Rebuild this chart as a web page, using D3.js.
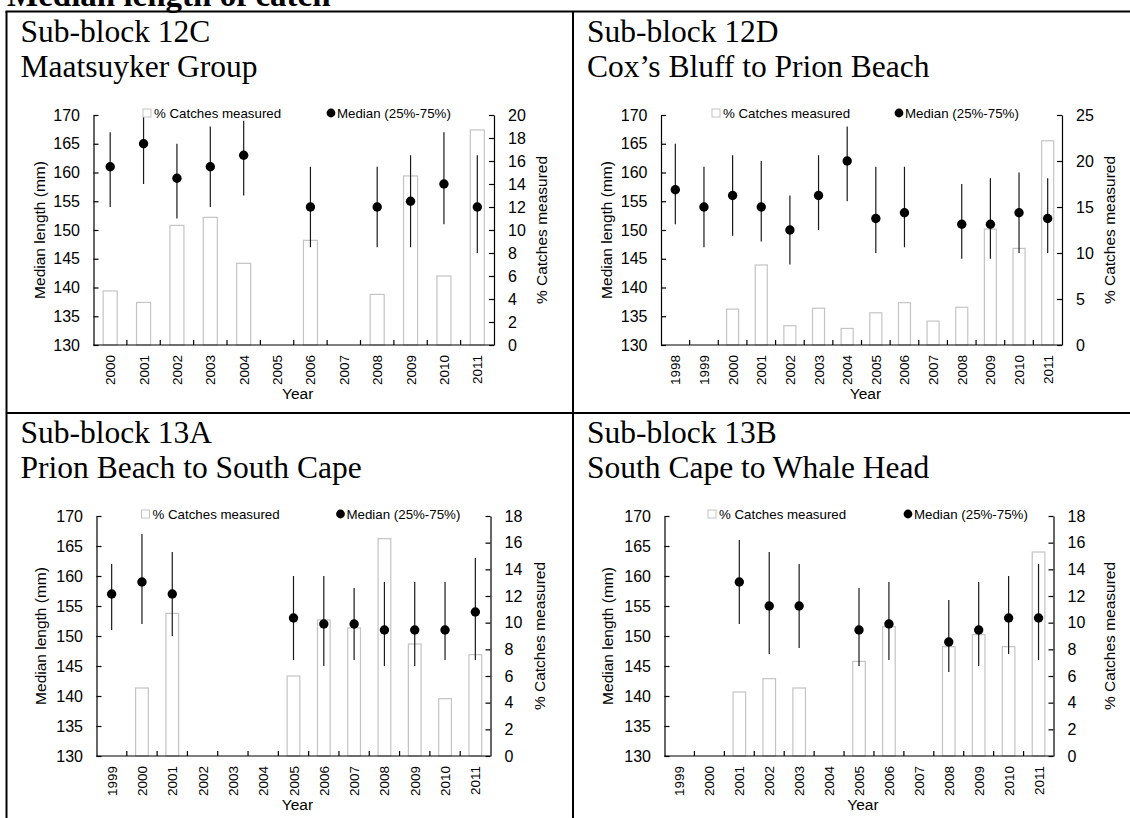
<!DOCTYPE html>
<html>
<head>
<meta charset="utf-8">
<script src="https://cdn.jsdelivr.net/npm/d3@7"></script>
<style>
  html, body { margin: 0; padding: 0; background: #fff; }
  svg { display: block; }
</style>
</head>
<body>
<svg id="chart" width="1130" height="818"></svg>
<script>
// ---------------- DATA ----------------
const figureTitle = "Median length of catch";
const legendBar = "% Catches measured";
const legendMedian = "Median (25%-75%)";
const leftAxisTitle = "Median length (mm)";
const rightAxisTitle = "% Catches measured";
const xAxisTitle = "Year";
const lengthTicks = [130, 135, 140, 145, 150, 155, 160, 165, 170];

// Sub-block 12C
const years12C = ["2000","2001","2002","2003","2004","2005","2006","2007","2008","2009","2010","2011"];
const median12C = [161, 165, 159, 161, 163, null, 154, null, 154, 155, 158, 154];
const q25_12C   = [154, 158, 152, 154, 156, null, 147, null, 147, 147, 151, 146];
const q75_12C   = [167, 170, 165, 168, 169, null, 161, null, 161, 163, 167, 163];
const pct12C    = [4.7, 3.7, 10.4, 11.1, 7.1, 0, 9.1, 0, 4.4, 14.7, 6.0, 18.7];
const pctTicks12C = [0, 2, 4, 6, 8, 10, 12, 14, 16, 18, 20];

// Sub-block 12D
const years12D = ["1998","1999","2000","2001","2002","2003","2004","2005","2006","2007","2008","2009","2010","2011"];
const median12D = [157, 154, 156, 154, 150, 156, 162, 152, 153, null, 151, 151, 153, 152];
const q25_12D   = [151, 147, 149, 148, 144, 150, 155, 146, 147, null, 145, 145, 146, 146];
const q75_12D   = [165, 161, 163, 162, 156, 163, 168, 161, 161, null, 158, 159, 160, 159];
const pct12D    = [0, 0, 3.9, 8.7, 2.1, 4.0, 1.8, 3.5, 4.6, 2.6, 4.1, 12.6, 10.5, 22.2];
const pctTicks12D = [0, 5, 10, 15, 20, 25];

// Sub-block 13A
const years13A = ["1999","2000","2001","2002","2003","2004","2005","2006","2007","2008","2009","2010","2011"];
const median13A = [157, 159, 157, null, null, null, 153, 152, 152, 151, 151, 151, 154];
const q25_13A   = [151, 152, 150, null, null, null, 146, 145, 146, 145, 145, 146, 146];
const q75_13A   = [162, 167, 164, null, null, null, 160, 160, 158, 159, 159, 159, 163];
const pct13A    = [0, 5.1, 10.7, 0, 0, 0, 6.0, 10.2, 9.6, 16.3, 8.4, 4.3, 7.6];
const pctTicks13A = [0, 2, 4, 6, 8, 10, 12, 14, 16, 18];

// Sub-block 13B
const years13B = ["1999","2000","2001","2002","2003","2004","2005","2006","2007","2008","2009","2010","2011"];
const median13B = [null, null, 159, 155, 155, null, 151, 152, null, 149, 151, 153, 153];
const q25_13B   = [null, null, 152, 147, 148, null, 145, 146, null, 144, 145, 147, 146];
const q75_13B   = [null, null, 166, 164, 162, null, 158, 159, null, 156, 159, 160, 162];
const pct13B    = [0, 0, 4.8, 5.8, 5.1, 0, 7.1, 9.7, 0, 8.2, 9.1, 8.2, 15.3];
const pctTicks13B = [0, 2, 4, 6, 8, 10, 12, 14, 16, 18];

// ---------------- LAYOUT ----------------
const panels = [
  { line1: "Sub-block 12C", line2: "Maatsuyker Group",
    years: years12C, median: median12C, q25: q25_12C, q75: q75_12C, pct: pct12C, pctTicks: pctTicks12C,
    cellX: 6.5, cellY: 11.5, L: 93.5, R: 494, T: 115, B: 345,
    leftTitleX: 39, rightTitleX: 541, legSq: 147, legCirc: 331 },
  { line1: "Sub-block 12D", line2: "Cox\u2019s Bluff to Prion Beach",
    years: years12D, median: median12D, q25: q25_12D, q75: q75_12D, pct: pct12D, pctTicks: pctTicks12D,
    cellX: 573, cellY: 11.5, L: 661, R: 1062, T: 115, B: 345,
    leftTitleX: 606, rightTitleX: 1109, legSq: 716, legCirc: 899 },
  { line1: "Sub-block 13A", line2: "Prion Beach to South Cape",
    years: years13A, median: median13A, q25: q25_13A, q75: q75_13A, pct: pct13A, pctTicks: pctTicks13A,
    cellX: 6.5, cellY: 413, L: 96.5, R: 490.5, T: 516, B: 756,
    leftTitleX: 40, rightTitleX: 539, legSq: 145.5, legCirc: 340.5 },
  { line1: "Sub-block 13B", line2: "South Cape to Whale Head",
    years: years13B, median: median13B, q25: q25_13B, q75: q75_13B, pct: pct13B, pctTicks: pctTicks13B,
    cellX: 573, cellY: 413, L: 664.5, R: 1053.5, T: 516, B: 756,
    leftTitleX: 607.5, rightTitleX: 1109, legSq: 712, legCirc: 908 }
];

const svg = d3.select("#chart");
svg.append("rect").attr("width", 1130).attr("height", 818).attr("fill", "#fff");

const SERIF = "'Liberation Serif', 'Times New Roman', serif";
const SANS = "'Liberation Sans', Arial, sans-serif";

// figure title (cut at the top edge, as in the reference)
svg.append("text").attr("x", 7).attr("y", 6)
  .attr("font-family", SERIF).attr("font-weight", "bold").attr("font-size", 33)
  .attr("fill", "#000").text(figureTitle);

// table borders
const border = svg.append("g").attr("stroke", "#000").attr("stroke-width", 2).attr("fill", "none");
border.append("line").attr("x1", 5.5).attr("x2", 1130).attr("y1", 11.5).attr("y2", 11.5);
border.append("line").attr("x1", 6.5).attr("x2", 6.5).attr("y1", 11.5).attr("y2", 818);
border.append("line").attr("x1", 573).attr("x2", 573).attr("y1", 11.5).attr("y2", 818);
border.append("line").attr("x1", 6.5).attr("x2", 1130).attr("y1", 413).attr("y2", 413);

panels.forEach(p => {
  const g = svg.append("g");
  // panel titles
  g.append("text").attr("x", p.cellX + 14).attr("y", p.cellY + 30)
    .attr("font-family", SERIF).attr("font-size", 31.5).attr("fill", "#000").text(p.line1);
  g.append("text").attr("x", p.cellX + 14).attr("y", p.cellY + 65)
    .attr("font-family", SERIF).attr("font-size", 31.5).attr("fill", "#000").text(p.line2);

  const x = d3.scaleBand().domain(p.years).range([p.L, p.R]).paddingInner(0).paddingOuter(0);
  const y = d3.scaleLinear().domain([130, 170]).range([p.B, p.T]);
  const yR = d3.scaleLinear().domain([0, d3.max(p.pctTicks)]).range([p.B, p.T]);

  // bars
  const bw = x.bandwidth() * 0.42;
  g.append("g").selectAll("rect")
    .data(p.years.map((yr, i) => ({ yr, v: p.pct[i] })).filter(d => d.v > 0))
    .join("rect")
    .attr("x", d => x(d.yr) + x.bandwidth() / 2 - bw / 2)
    .attr("width", bw)
    .attr("y", d => yR(d.v))
    .attr("height", d => yR(0) - yR(d.v))
    .attr("fill", "#fff").attr("stroke", "#c4c4c4").attr("stroke-width", 1.2);

  // axes
  const axL = g.append("g").attr("transform", `translate(${p.L},0)`)
    .call(d3.axisLeft(y).tickValues(lengthTicks).tickSize(-5).tickPadding(13.5).tickSizeOuter(0));
  const axR = g.append("g").attr("transform", `translate(${p.R},0)`)
    .call(d3.axisRight(yR).tickValues(p.pctTicks).tickSize(-5).tickPadding(14).tickSizeOuter(0));
  [axL, axR].forEach(a => {
    a.selectAll("text").attr("font-family", SANS).attr("font-size", 16).attr("fill", "#000");
    a.selectAll("line, path").attr("stroke", "#000").attr("stroke-width", 1.2);
  });

  // x axis: line, ticks at band boundaries (inside), rotated labels
  const xa = g.append("g");
  xa.append("line").attr("x1", p.L).attr("x2", p.R).attr("y1", p.B).attr("y2", p.B)
    .attr("stroke", "#000").attr("stroke-width", 1.2);
  xa.selectAll("line.tk").data(p.years.slice(1)).join("line").attr("class", "tk")
    .attr("x1", d => x(d)).attr("x2", d => x(d))
    .attr("y1", p.B).attr("y2", p.B - 5).attr("stroke", "#000").attr("stroke-width", 1.2);
  xa.selectAll("text").data(p.years).join("text")
    .attr("transform", d => `translate(${x(d) + x.bandwidth() / 2 + 5},${p.B + 10}) rotate(-90)`)
    .attr("text-anchor", "end")
    .attr("font-family", SANS).attr("font-size", 13.5).attr("fill", "#000")
    .text(d => d);

  // axis titles
  g.append("text")
    .attr("transform", `translate(${p.leftTitleX},${(p.T + p.B) / 2}) rotate(-90)`)
    .attr("text-anchor", "middle").attr("dominant-baseline", "central")
    .attr("font-family", SANS).attr("font-size", 15.5).attr("fill", "#000").text(leftAxisTitle);
  g.append("text")
    .attr("transform", `translate(${p.rightTitleX},${(p.T + p.B) / 2}) rotate(-90)`)
    .attr("text-anchor", "middle").attr("dominant-baseline", "central")
    .attr("font-family", SANS).attr("font-size", 15.5).attr("fill", "#000").text(rightAxisTitle);
  g.append("text")
    .attr("x", (p.L + p.R) / 2 + 4).attr("y", p.B + 54)
    .attr("text-anchor", "middle")
    .attr("font-family", SANS).attr("font-size", 15.5).attr("fill", "#000").text(xAxisTitle);

  // error bars & medians
  const pts = p.years.map((yr, i) => ({ yr, m: p.median[i], lo: p.q25[i], hi: p.q75[i] })).filter(d => d.m != null);
  g.append("g").selectAll("line").data(pts).join("line")
    .attr("x1", d => x(d.yr) + x.bandwidth() / 2).attr("x2", d => x(d.yr) + x.bandwidth() / 2)
    .attr("y1", d => y(d.lo)).attr("y2", d => y(d.hi))
    .attr("stroke", "#1a1a1a").attr("stroke-width", 1.2);
  g.append("g").selectAll("circle").data(pts).join("circle")
    .attr("cx", d => x(d.yr) + x.bandwidth() / 2).attr("cy", d => y(d.m))
    .attr("r", 4.7).attr("fill", "#000");

  // legend
  const ly = p.T - 2;
  g.append("rect").attr("x", p.legSq - 4).attr("y", ly - 4).attr("width", 8).attr("height", 8)
    .attr("fill", "#fff").attr("stroke", "#c4c4c4").attr("stroke-width", 1);
  g.append("text").attr("x", p.legSq + 7).attr("y", ly).attr("dominant-baseline", "central")
    .attr("font-family", SANS).attr("font-size", 13.3).attr("fill", "#000").text(legendBar);
  g.append("circle").attr("cx", p.legCirc).attr("cy", ly).attr("r", 4.4).attr("fill", "#000");
  g.append("text").attr("x", p.legCirc + 6).attr("y", ly).attr("dominant-baseline", "central")
    .attr("font-family", SANS).attr("font-size", 13.3).attr("fill", "#000").text(legendMedian);
});
</script>
</body>
</html>
